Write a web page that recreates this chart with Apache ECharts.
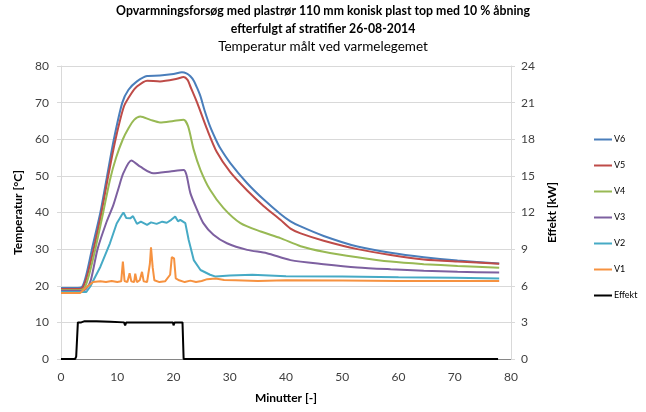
<!DOCTYPE html>
<html>
<head>
<meta charset="utf-8">
<script src="https://cdn.jsdelivr.net/npm/echarts@6/dist/echarts.min.js"></script>
<style>
  html, body { margin: 0; padding: 0; background: #fff; }
  #chart { width: 646px; height: 412px; }
</style>
</head>
<body>
<div id="chart"></div>
<script>
// aflæste målepunkter [minutter, °C]
const v6 = [[0,19.4],[3,19.4],[3.8,19.8],[4.5,23],[5.5,30],[7,40],[8.2,50],[9.4,60],[10.9,70],[12,73.5],[13.5,75.8],[15.3,77.3],[17.6,77.4],[20,77.8],[21.5,78.3],[22.3,78],[23,77.2],[23.6,76],[24.2,74],[24.8,71.7],[25.5,68],[26.5,63.5],[27.5,60],[28.3,57.6],[30.1,53.5],[33.1,48],[36,43.6],[39,39.6],[40.8,37.6],[42.6,36.2],[46.7,33.6],[52.7,30.7],[58.6,29],[64.5,27.8],[70.5,26.9],[77.9,26.1]];
const v5 = [[0,19.1],[3.2,19.1],[3.9,19.6],[4.7,23],[5.8,30],[7.2,40],[8.4,50],[9.7,60],[11.2,69],[12.5,72.5],[13.5,74.4],[15.3,76],[17.6,75.8],[20.6,76.5],[21.8,77],[22.5,76.2],[23,74.4],[24.2,70],[26,62.6],[27.7,56.5],[30.1,51],[33.1,46],[36,41.8],[39,38],[40.8,35.6],[42.6,34.3],[46.7,32.3],[52.7,30],[58.6,28.4],[64.5,27.2],[70.5,26.6],[77.9,26]];
const v4 = [[0,18.8],[3.4,18.8],[4.2,19.4],[5,23],[6.1,30],[7.5,40],[8.7,48.9],[9.8,55],[11,60],[12,63],[13,65.3],[14.1,66.2],[15.9,65.3],[17.6,64.6],[20,65],[21.8,65.3],[22.6,63.5],[23.6,57.1],[24.8,51.6],[26.5,46.2],[28.9,41.2],[31.9,37.1],[35.5,34.8],[39,33],[42.6,30.8],[46.7,29.3],[52.7,27.8],[58.6,26.6],[64.5,25.9],[70.5,25.4],[77.9,24.9]];
const v3 = [[0,18.6],[3.7,18.6],[4.5,19.2],[5.3,21.5],[6.5,30],[8,37],[9.3,42],[10.2,46.5],[11.1,50.8],[12.5,54.2],[14.1,52.5],[16.4,50.7],[19.4,51.2],[21.8,51.6],[22.3,50.3],[23,45.3],[24.2,40.7],[25.3,37.1],[27.1,33.9],[29.5,31.6],[33.1,29.8],[36.6,28.9],[40.8,27],[46.7,25.9],[52.7,25],[58.6,24.5],[64.5,24.1],[70.5,23.8],[77.9,23.6]];
const v2 = [[0,18.3],[4.5,18.3],[5.2,19.8],[7,25.2],[8.7,31.6],[9.9,37],[10.8,39.3],[11.1,40],[11.6,38.5],[12.3,38.4],[12.8,39],[13.5,36.9],[14.2,37.5],[15.3,36.6],[16,37.3],[17,36.9],[18,37.5],[18.8,37.2],[19.6,38],[20.3,38.9],[20.8,37.6],[21.2,38],[22.1,37.1],[22.7,32.5],[23.6,27],[24.8,24.3],[26.5,23],[27.5,22.5],[30,22.8],[34,23],[40,22.6],[50,22.5],[60,22.3],[70,22.2],[77.9,22]];
const v1 = [[0,18],[3.4,18],[4.5,19.5],[5.7,21],[7,21.2],[8,21],[9,21.3],[10,21],[10.7,21.2],[11,26.6],[11.3,21.3],[11.8,21],[12.2,23.4],[12.5,21.2],[13,21],[13.2,23.3],[13.5,21],[14,21.5],[14.4,23.8],[14.7,21.2],[15.3,21],[15.8,26],[16,30.5],[16.3,25],[16.6,21.5],[17.5,21],[18.5,21.2],[19.4,23],[19.7,27.8],[20.1,27.5],[20.4,22],[21,21.5],[22,21],[23,21.4],[24,21],[25,21.3],[26,21.8],[27.5,22],[29,21.6],[31,21.5],[35,21.3],[40,21.5],[50,21.4],[60,21.3],[70,21.3],[77.9,21.3]];
// effekt [minutter, kW]
const effekt = [[0,0],[2.5,0],[2.7,0.2],[3,3],[3.3,3.1],[3.6,3],[4.2,3.1],[4.5,3],[5.2,3.1],[5.5,3],[6.3,3.1],[6.6,3],[8.8,3.05],[9,3],[11.2,3],[11.4,2.75],[11.6,3],[18.8,3],[18.9,2.85],[19.1,3],[19.9,3],[20,2.75],[20.2,3],[20.5,3.15],[20.7,3],[21.6,3],[21.8,0],[77.7,0]];

const xTicks = { min: 0, max: 80, interval: 10 };
const tempTicks = { min: 0, max: 80, interval: 10 };
const kwTicks = { min: 0, max: 24, interval: 3 };

const font = 'Lato, "Liberation Sans", sans-serif';

const chart = echarts.init(document.getElementById('chart'));

const line = (name, data, color, yIndex, smooth) => ({
  name: name,
  type: 'line',
  data: data,
  yAxisIndex: yIndex || 0,
  showSymbol: false,
  symbol: 'none',
  smooth: smooth || false,
  lineStyle: { color: color, width: 2 },
  itemStyle: { color: color },
});

chart.setOption({
  animation: false,
  textStyle: { fontFamily: font },
  title: [
    {
      text: 'Opvarmningsforsøg med plastrør 110 mm konisk plast top med 10 % åbning\nefterfulgt af stratifier 26-08-2014',
      left: 'center', top: 2, padding: 0,
      textStyle: { fontSize: 12.3, fontWeight: 'bold', color: '#000', lineHeight: 18, fontFamily: font },
    },
    {
      text: 'Temperatur målt ved varmelegemet',
      left: 'center', top: 40, padding: 0,
      textStyle: { fontSize: 13.5, fontWeight: 'normal', color: '#000', fontFamily: font },
    },
  ],
  legend: {
    orient: 'vertical',
    left: 589, top: 130,
    itemWidth: 18, itemHeight: 2, itemGap: 17,
    icon: 'rect',
    textStyle: { fontSize: 9, color: '#000', padding: [0, 0, 0, -3], fontFamily: font },
    data: ['V6', 'V5', 'V4', 'V3', 'V2', 'V1', 'Effekt'],
  },
  grid: { left: 61, right: 135, top: 66, bottom: 53, containLabel: false },
  xAxis: {
    type: 'value',
    ...xTicks,
    name: 'Minutter [-]',
    nameLocation: 'middle',
    nameGap: 33,
    nameTextStyle: { fontWeight: 'bold', fontSize: 12, color: '#000' },
    axisLine: { show: true, lineStyle: { color: '#868686' } },
    axisTick: { show: false },
    axisLabel: { fontSize: 12, color: '#404040', margin: 12 },
    splitLine: { show: false },
  },
  yAxis: [
    {
      type: 'value',
      ...tempTicks,
      name: 'Temperatur [°C]',
      nameLocation: 'middle',
      nameGap: 37,
      nameRotate: 90,
      nameTextStyle: { fontWeight: 'bold', fontSize: 12, color: '#000' },
      axisLine: { show: true, lineStyle: { color: '#d9d9d9' } },
      axisTick: { show: true, length: 4, lineStyle: { color: '#d9d9d9' } },
      axisLabel: { fontSize: 12, color: '#404040', margin: 12 },
      splitLine: { show: true, lineStyle: { color: '#d9d9d9', width: 1 } },
    },
    {
      type: 'value',
      ...kwTicks,
      position: 'right',
      name: 'Effekt [kW]',
      nameLocation: 'middle',
      nameGap: 30,
      nameRotate: 90,
      nameTextStyle: { fontWeight: 'bold', fontSize: 12, color: '#000' },
      axisLine: { show: true, lineStyle: { color: '#d9d9d9' } },
      axisTick: { show: true, length: 4, lineStyle: { color: '#d9d9d9' } },
      axisLabel: { fontSize: 12, color: '#404040', margin: 10 },
      splitLine: { show: false },
    },
  ],
  series: [
    line('V6', v6, '#4a7ebb', 0, 0.25),
    line('V5', v5, '#be4b48', 0, 0.25),
    line('V4', v4, '#98b954', 0, 0.25),
    line('V3', v3, '#7d60a0', 0, 0.25),
    line('V2', v2, '#46aac5'),
    line('V1', v1, '#f69240'),
    line('Effekt', effekt, '#000000', 1),
  ],
});
</script>
</body>
</html>
